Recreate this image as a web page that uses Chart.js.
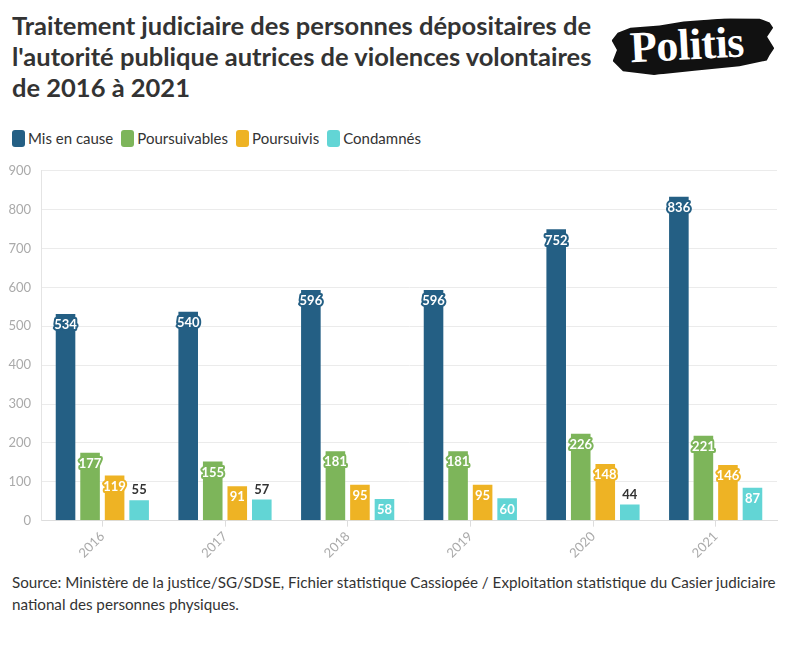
<!DOCTYPE html>
<html>
<head>
<meta charset="utf-8">
<script src="https://cdn.jsdelivr.net/npm/chart.js@4"></script>
<style>
  body { margin: 0; width: 800px; height: 650px; background: #fff; font-family: Lato, sans-serif; color: #333; position: relative; overflow: hidden; }
  #title { position: absolute; left: 12px; top: 10px; width: 592px; font-weight: bold; font-size: 25.5px; line-height: 31px; color: #333; }
  #logo { position: absolute; left: 612px; top: 19px; width: 162px; height: 54px; background: #111;
    clip-path: polygon(4% 18%, 12% 10%, 30% 9%, 45% 4%, 70% 2%, 92% 6%, 98% 14%, 100% 24%, 96% 40%, 100% 62%, 97% 74%, 95% 84%, 78% 92%, 50% 96%, 25% 100%, 6% 90%, 0% 70%, 3% 50%, 0% 32%);
    transform: rotate(-3deg); }
  #logo span { position: absolute; left: 18px; top: 0px; font-family: "Liberation Serif", serif; font-weight: bold; font-size: 44px; color: #fff; letter-spacing: -0.5px; }
  #legend { position: absolute; left: 12px; top: 129px; font-size: 15px; color: #333; white-space: nowrap; }
  #legend .item { display: inline-block; margin-right: 8px; }
  #legend .box { display: inline-block; width: 13px; height: 17px; border-radius: 3px; vertical-align: -3px; margin-right: 3px; }
  #wrap { position: absolute; left: 0; top: 153px; width: 800px; height: 413px; }
  #source { position: absolute; left: 12px; top: 571px; width: 780px; font-size: 15.2px; line-height: 22px; color: #333; }
</style>
</head>
<body>
<div id="title">Traitement judiciaire des personnes dépositaires de l'autorité publique autrices de violences volontaires de 2016 à 2021</div>
<div id="logo"><span>Politis</span></div>
<div id="legend"></div>
<div id="wrap"><canvas id="myChart"></canvas></div>
<div id="source">Source: Ministère de la justice/SG/SDSE, Fichier statistique Cassiopée / Exploitation statistique du Casier judiciaire national des personnes physiques.</div>
<script>
const years = ['2016', '2017', '2018', '2019', '2020', '2021'];
const seriesNames = ['Mis en cause', 'Poursuivables', 'Poursuivis', 'Condamnés'];
const misEnCause = [534, 540, 596, 596, 752, 836];
const poursuivables = [177, 155, 181, 181, 226, 221];
const poursuivis = [119, 91, 95, 95, 148, 146];
const condamnes = [55, 57, 58, 60, 44, 87];
const yTicks = [0, 100, 200, 300, 400, 500, 600, 700, 800, 900];

const colors = ['#245f84', '#7db55a', '#eeb324', '#62d5d5'];

// legend in html
let legendHtml = '';
for (let i = 0; i < seriesNames.length; i++) {
    legendHtml += '<span class="item"><span class="box" style="background:' + colors[i] + '"></span>' + seriesNames[i] + '</span>';
}
document.getElementById('legend').innerHTML = legendHtml;

// labels on top of the bars
const barLabels = {
    id: 'barLabels',
    afterDatasetsDraw(chart) {
        const c = chart.ctx;
        c.save();
        c.font = 'bold 13px Lato';
        c.textAlign = 'center';
        c.textBaseline = 'middle';
        chart.data.datasets.forEach((ds, i) => {
            const meta = chart.getDatasetMeta(i);
            meta.data.forEach((bar, j) => {
                let v = ds.data[j];
                if (v >= 58) {
                    c.lineWidth = 4;
                    c.lineJoin = 'round';
                    c.strokeStyle = colors[i];
                    c.strokeText(v, bar.x, bar.y + 12);
                    c.fillStyle = '#fff';
                    c.fillText(v, bar.x, bar.y + 12);
                } else {
                    c.fillStyle = '#333';
                    c.fillText(v, bar.x, bar.y - 9);
                }
            });
        });
        c.restore();
    }
};

function makeSet(i, data) {
    return {
        label: seriesNames[i],
        data: data,
        backgroundColor: colors[i],
        borderColor: 'rgba(255,255,255,0.25)',
        borderWidth: 1,
        categoryPercentage: 0.8,
        barPercentage: 0.88
    };
}

new Chart(document.getElementById('myChart'), {
    type: 'bar',
    data: {
        labels: years,
        datasets: [
            makeSet(0, misEnCause),
            makeSet(1, poursuivables),
            makeSet(2, poursuivis),
            makeSet(3, condamnes)
        ]
    },
    options: {
        responsive: true,
        maintainAspectRatio: false,
        animation: false,
        layout: { padding: { left: 2, right: 23, top: 0, bottom: 3 } },
        plugins: {
            legend: { display: false },
            tooltip: { enabled: false }
        },
        scales: {
            x: {
                grid: { display: true, drawOnChartArea: false, offset: false, tickLength: 6, color: '#ddd' },
                border: { color: '#ddd' },
                ticks: { font: { family: 'Lato', size: 13 }, color: '#aaa', maxRotation: 45, minRotation: 45, padding: 2 }
            },
            y: {
                min: 0,
                max: 900,
                afterBuildTicks(s) { s.ticks = yTicks.map(v => ({ value: v })); },
                afterFit(s) { s.width = 39; },
                grid: { color: '#ebebeb', drawTicks: false },
                border: { color: '#e4e4e4' },
                ticks: { font: { family: 'Lato', size: 13 }, color: '#aaa', padding: 10 }
            }
        }
    },
    plugins: [barLabels]
});
</script>
</body>
</html>
